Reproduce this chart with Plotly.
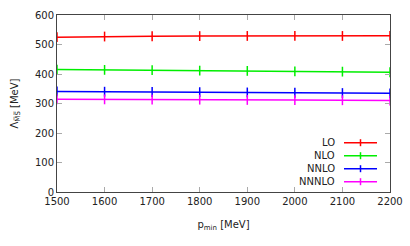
import plotly.graph_objects as go

p_min = [1500, 1600, 1700, 1800, 1900, 2000, 2100, 2200]
lo = [525, 527, 528, 528.5, 529, 529, 529, 529.5]
nlo = [415, 414, 413, 411.5, 410.5, 409, 408, 406]
nnlo = [341, 340, 339, 338.5, 337.5, 336.5, 335.5, 334.5]
nnnlo = [314, 314, 313, 313, 312, 311.5, 311, 310]

series = [("LO", lo, "#ff0000"), ("NLO", nlo, "#00ee00"),
          ("NNLO", nnlo, "#0000ff"), ("NNNLO", nnnlo, "#ff00ff")]

fig = go.Figure()
for name, vals, col in series:
    fig.add_trace(go.Scatter(x=p_min, y=vals, mode="lines+markers", name=name,
                             line=dict(color=col, width=1.5),
                             marker=dict(symbol="line-ns", size=7,
                                         line=dict(color=col, width=1.5)),
                             showlegend=False, cliponaxis=False))

# custom legend (text left of sample like gnuplot)
L, R, T, B = 57, 390, 15, 192
W, H = 410, 246
def px(x): return (x - L) / (R - L)
def py(y): return (B - y) / (B - T)
for i, (name, vals, col) in enumerate(series):
    yy = 142.7 + 13 * i
    fig.add_annotation(x=px(337), y=py(yy), xref="paper", yref="paper",
                       text=name, showarrow=False, xanchor="right", yanchor="middle",
                       font=dict(family="DejaVu Sans", size=10, color="#222"))
    fig.add_shape(type="line", xref="paper", yref="paper", x0=px(344), x1=px(377),
                  y0=py(yy), y1=py(yy), line=dict(color=col, width=1.5))
    fig.add_shape(type="line", xref="paper", yref="paper", x0=px(360.5), x1=px(360.5),
                  y0=py(yy - 3.5), y1=py(yy + 3.5), line=dict(color=col, width=1.5))

axis_common = dict(showgrid=False, zeroline=False, showline=True, linecolor="#444",
                   linewidth=1, mirror="ticks", ticks="inside", ticklen=5,
                   tickcolor="#aaa", tickwidth=1, automargin=False,
                   tickfont=dict(family="DejaVu Sans", size=10, color="#222"))
fig.update_xaxes(range=[1500, 2200], dtick=100, **axis_common,
                 title=dict(text="p<sub>min</sub> [MeV]", standoff=14,
                            font=dict(family="DejaVu Sans", size=10, color="#222")))
fig.update_yaxes(range=[0, 600], dtick=100, **axis_common,
                 title=dict(text="Λ<sub>M̅S̅</sub> [MeV]", standoff=14,
                            font=dict(family="DejaVu Sans", size=10, color="#222")))
fig.update_layout(width=W, height=H, margin=dict(l=L, r=W - R, t=T, b=H - B),
                  plot_bgcolor="white", paper_bgcolor="white")
fig.write_html("out.html", config={"displayModeBar": False},
               post_script="document.body.style.margin='0';")
